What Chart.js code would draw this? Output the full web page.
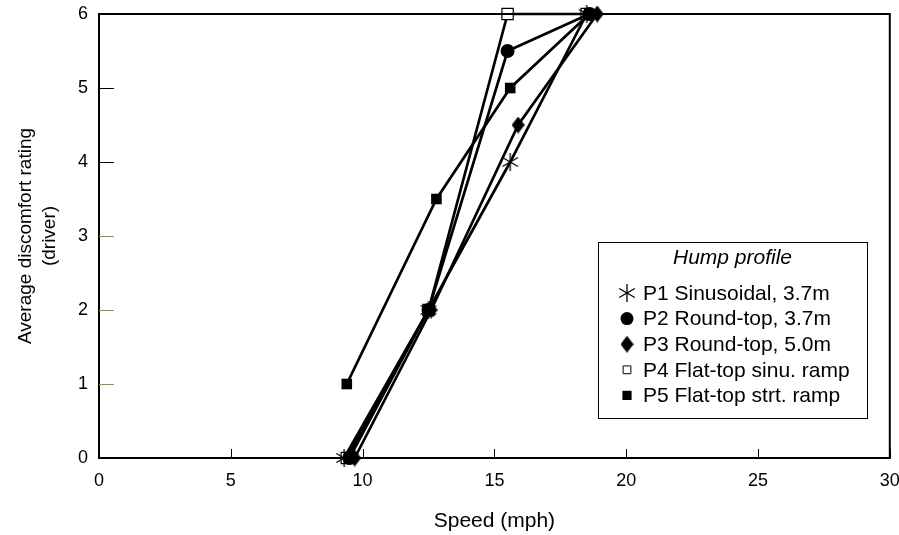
<!DOCTYPE html>
<html>
<head>
<meta charset="utf-8">
<script src="https://cdn.jsdelivr.net/npm/chart.js@4"></script>
<style>
  html, body { margin: 0; padding: 0; background: #fff; }
  #wrap { width: 899px; height: 535px; position: relative; }
</style>
</head>
<body>
<div id="wrap"><canvas id="chart"></canvas></div>
<script>
// Discomfort rating vs speed, per hump profile
const seriesNames = [
  'P1 Sinusoidal, 3.7m',
  'P2 Round-top, 3.7m',
  'P3 Round-top, 5.0m',
  'P4 Flat-top sinu. ramp',
  'P5 Flat-top strt. ramp',
];
const p1Speed = [9.3, 12.5, 15.6, 18.5];
const p1Rating = [0, 2, 4, 6];
const p2Speed = [9.5, 12.5, 15.5, 18.6];
const p2Rating = [0, 2, 5.5, 6];
const p3Speed = [9.7, 12.6, 15.9, 18.9];
const p3Rating = [0, 2, 4.5, 6];
const p4Speed = [9.4, 12.5, 15.5, 18.5];
const p4Rating = [0, 2, 6, 6];
const p5Speed = [9.4, 12.8, 15.6, 18.6];
const p5Rating = [1, 3.5, 5, 6];
const xTicks = [0, 5, 10, 15, 20, 25, 30];
const yTicks = [0, 1, 2, 3, 4, 5, 6];

const FONT = "'Liberation Sans', Arial, sans-serif";

// custom marker glyphs
function asteriskMarker(r) {
  const c = document.createElement('canvas');
  c.width = c.height = r * 2 + 2;
  const g = c.getContext('2d');
  g.strokeStyle = '#000'; g.lineWidth = 1.3;
  const m = r + 1;
  [90, 30, 150].forEach(a => {
    const rad = a * Math.PI / 180;
    g.beginPath();
    g.moveTo(m - r * Math.cos(rad), m - r * Math.sin(rad));
    g.lineTo(m + r * Math.cos(rad), m + r * Math.sin(rad));
    g.stroke();
  });
  return c;
}
function diamondMarker(w, h) {
  const c = document.createElement('canvas');
  c.width = w; c.height = h;
  const g = c.getContext('2d');
  g.fillStyle = '#000';
  g.beginPath();
  g.moveTo(w / 2, 0); g.lineTo(w, h / 2); g.lineTo(w / 2, h); g.lineTo(0, h / 2);
  g.closePath(); g.fill();
  return c;
}
const starImg = asteriskMarker(9);
const diamondImg = diamondMarker(13, 17);

const pts = (xs, ys) => xs.map((x, i) => ({ x, y: ys[i] }));

const base = { borderColor: '#000', borderWidth: 2.7, tension: 0, clip: false, showLine: true };
const datasets = [
  { ...base, label: seriesNames[0], data: pts(p1Speed, p1Rating), pointStyle: starImg, backgroundColor: '#000' },
  { ...base, label: seriesNames[1], data: pts(p2Speed, p2Rating), pointStyle: 'circle', pointRadius: 7, backgroundColor: '#000', pointBorderWidth: 0 },
  { ...base, label: seriesNames[2], data: pts(p3Speed, p3Rating), pointStyle: diamondImg, backgroundColor: '#000' },
  { ...base, label: seriesNames[3], data: pts(p4Speed, p4Rating), pointStyle: 'rect', pointRadius: 8, backgroundColor: '#fff', pointBorderColor: '#000', pointBorderWidth: 1.2 },
  { ...base, label: seriesNames[4], data: pts(p5Speed, p5Rating), pointStyle: 'rect', pointRadius: 7.5, backgroundColor: '#000', pointBorderWidth: 0 },
];

// frame, inward tick marks and the boxed legend
const framePlugin = {
  id: 'frame',
  afterDraw(chart) {
    const { ctx, chartArea: a, scales: { x, y } } = chart;
    ctx.save();
    ctx.strokeStyle = '#000';
    ctx.lineWidth = 2;
    ctx.strokeRect(a.left, a.top, a.right - a.left, a.bottom - a.top);
    ctx.lineWidth = 1;
    xTicks.forEach(v => {
      const px = Math.round(x.getPixelForValue(v)) + 0.5;
      ctx.beginPath(); ctx.moveTo(px, a.bottom); ctx.lineTo(px, a.bottom - 9); ctx.stroke();
    });
    yTicks.forEach(v => {
      const py = Math.round(y.getPixelForValue(v)) + 0.5;
      ctx.strokeStyle = (v >= 1 && v <= 3) ? '#8f8f55' : '#000';
      ctx.beginPath(); ctx.moveTo(a.left, py); ctx.lineTo(a.left + 15, py); ctx.stroke();
    });

    // legend box
    const bx = 598, by = 242, bw = 269, bh = 176;
    ctx.strokeStyle = '#000'; ctx.lineWidth = 1;
    ctx.fillStyle = '#fff';
    ctx.fillRect(bx, by, bw, bh);
    ctx.strokeRect(bx + 0.5, by + 0.5, bw, bh);
    ctx.fillStyle = '#000';
    ctx.textAlign = 'center'; ctx.textBaseline = 'middle';
    ctx.font = `italic 21px ${FONT}`;
    ctx.fillText('Hump profile', bx + bw / 2, 258);
    ctx.textAlign = 'left';
    ctx.font = `21px ${FONT}`;
    chart.data.datasets.forEach((ds, i) => {
      const ly = 293 + i * 25.6;
      ctx.fillStyle = ds.backgroundColor;
      ctx.strokeStyle = ds.pointBorderColor || '#000';
      const r = (i === 3) ? 5.5 : (i === 0 ? 8 : 6.5);
      Chart.helpers.drawPoint(ctx, { pointStyle: ds.pointStyle, radius: r, borderWidth: ds.pointBorderWidth ?? 1, rotation: 0 }, 627, ly);
      ctx.fillStyle = '#000';
      ctx.fillText(ds.label, 643, ly + 1);
    });
    ctx.restore();
  }
};

new Chart(document.getElementById('chart'), {
  type: 'scatter',
  data: { datasets },
  plugins: [framePlugin],
  options: {
    responsive: true, maintainAspectRatio: false, animation: false,
    layout: { padding: { top: 14, right: 8, left: 0, bottom: 0 } },
    plugins: { legend: { display: false }, tooltip: { enabled: false } },
    scales: {
      x: {
        type: 'linear', min: 0, max: 30,
        afterBuildTicks: s => { s.ticks = xTicks.map(v => ({ value: v })); },
        afterFit: s => { s.height = 77; s.paddingLeft = 0; s.paddingRight = 0; },
        grid: { display: true, drawOnChartArea: false, drawTicks: false },
        border: { display: false },
        ticks: { color: '#000', font: { family: FONT, size: 18 }, padding: 12, maxRotation: 0 },
        title: { display: true, text: 'Speed (mph)', color: '#000', font: { family: FONT, size: 21 }, padding: { top: 0, bottom: 1 } },
      },
      y: {
        type: 'linear', min: 0, max: 6,
        afterBuildTicks: s => { s.ticks = yTicks.map(v => ({ value: v })); },
        afterFit: s => { s.width = 99; s.paddingTop = 0; s.paddingBottom = 0; },
        grid: { display: true, drawOnChartArea: false, drawTicks: false },
        border: { display: false },
        ticks: { color: '#000', font: { family: FONT, size: 18 }, padding: 11 },
        title: { display: true, text: ['Average discomfort rating', '(driver)'], color: '#000', font: { family: FONT, size: 19, lineHeight: 1.26 }, padding: { top: 14, bottom: 0 } },
      },
    },
  },
});
</script>
</body>
</html>
